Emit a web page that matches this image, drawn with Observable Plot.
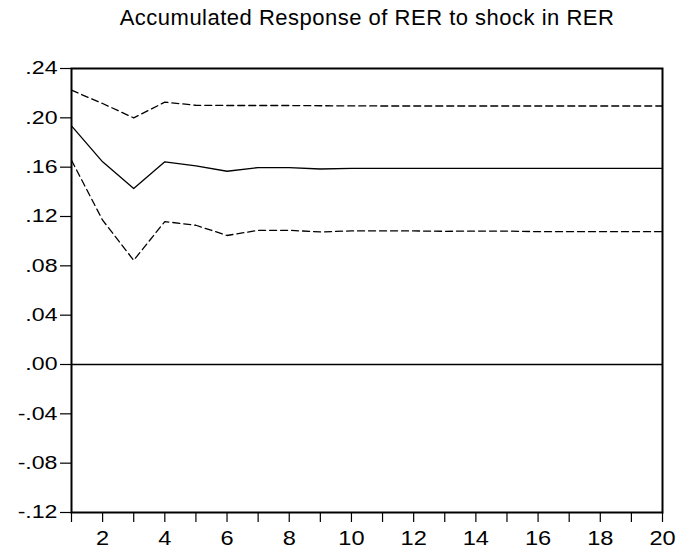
<!DOCTYPE html>
<html>
<head>
<meta charset="utf-8">
<script src="https://cdn.jsdelivr.net/npm/d3@7"></script>
<script src="https://cdn.jsdelivr.net/npm/@observablehq/plot@0.6"></script>
<style>
  body { margin: 0; background: #fff; }
  #title { width: 695px; height: 40px; position: relative; font-family: "Liberation Sans", Arial, sans-serif; font-size: 22px; letter-spacing: 0.5px; color: #000; }
  #title span { position: absolute; left: 367px; top: 5px; transform: translateX(-50%); white-space: nowrap; line-height: 1.15; }
  #chart svg [aria-label="y-axis tick label"], #chart svg [aria-label="y-axis tick label"] text { font-size: 18.5px !important; }
  #chart svg [aria-label="x-axis tick label"], #chart svg [aria-label="x-axis tick label"] text { font-size: 20px !important; }
</style>
</head>
<body>
<div id="title"><span>Accumulated Response of RER to shock in RER</span></div>
<div id="chart"></div>
<script>
const periods = d3.range(1, 21);
const response = [0.1935, 0.1643, 0.1427, 0.1643, 0.1610, 0.1567, 0.1597, 0.1597, 0.1585, 0.1590,
                  0.1591, 0.1591, 0.1591, 0.1591, 0.1591, 0.1591, 0.1591, 0.1591, 0.1591, 0.1591];
const upper = [0.2224, 0.2116, 0.2000, 0.2127, 0.2102, 0.2100, 0.2100, 0.2100, 0.2098, 0.2097,
               0.2096, 0.2096, 0.2096, 0.2096, 0.2096, 0.2096, 0.2096, 0.2096, 0.2096, 0.2096];
const lower = [0.1656, 0.1170, 0.0845, 0.1159, 0.1129, 0.1046, 0.1088, 0.1088, 0.1075, 0.1083,
               0.1083, 0.1083, 0.1080, 0.1082, 0.1082, 0.1077, 0.1077, 0.1077, 0.1077, 0.1077];
const yTicks = [-0.12, -0.08, -0.04, 0, 0.04, 0.08, 0.12, 0.16, 0.20, 0.24];

const rows = (vals) => periods.map((p, i) => ({p, v: vals[i]}));
const fmt = d => (d < 0 ? "-" : "") + Math.abs(d).toFixed(2).replace(/^0/, "");

const chart = Plot.plot({
  width: 695,
  height: 512,
  marginTop: 28,
  marginBottom: 40,
  marginLeft: 71,
  marginRight: 33,
  style: {fontFamily: "'Liberation Sans', Arial, sans-serif", color: "#000", background: "#fff", overflow: "visible"},
  x: {domain: [1, 20]},
  y: {domain: [-0.12, 0.24]},
  marks: [
    Plot.axisY({ticks: yTicks, tickFormat: fmt, tickSize: 11, tickPadding: 3, label: null, stroke: "#000", strokeWidth: 1.2}),
    Plot.axisX({ticks: periods, tickFormat: d => d % 2 ? "" : String(d), tickSize: 10, tickPadding: 8, label: null, stroke: "#000", strokeWidth: 1.2}),
    Plot.ruleY([0], {stroke: "#000", strokeWidth: 1.5}),
    Plot.line(rows(upper), {x: "p", y: "v", stroke: "#000", strokeWidth: 1.3, strokeDasharray: "7,4"}),
    Plot.line(rows(lower), {x: "p", y: "v", stroke: "#000", strokeWidth: 1.3, strokeDasharray: "7,4"}),
    Plot.line(rows(response), {x: "p", y: "v", stroke: "#000", strokeWidth: 1.3}),
    Plot.frame({stroke: "#000", strokeWidth: 2})
  ]
});

// widen tick-label glyphs horizontally like the reference; keep Plot's own x/y (em offsets) untouched
function stretch(selector, sx) {
  chart.querySelectorAll(selector + " text").forEach(el => {
    const t = el.getAttribute("transform") || "";
    el.setAttribute("transform", (t + ` scale(${sx},1)`).trim());
  });
}
stretch('[aria-label="y-axis tick label"]', 1.25);
stretch('[aria-label="x-axis tick label"]', 1.18);

document.getElementById("chart").appendChild(chart);
</script>
</body>
</html>
